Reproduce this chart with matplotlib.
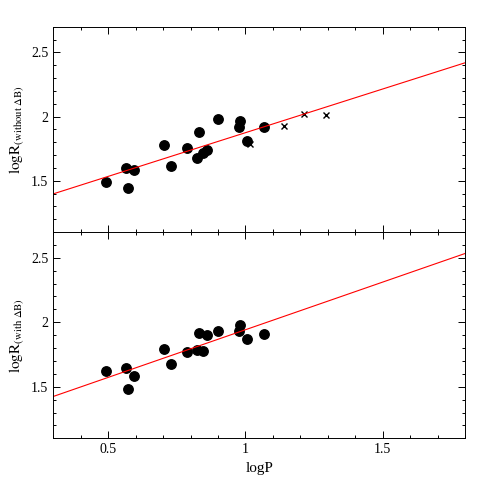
import matplotlib
matplotlib.use('Agg')
import matplotlib.pyplot as plt
import numpy as np
from matplotlib.ticker import MultipleLocator

plt.rcParams['font.family'] = ['Liberation Serif', 'DejaVu Serif']
plt.rcParams['mathtext.fontset'] = 'stix'

# data
logP = [0.491, 0.565, 0.573, 0.595, 0.704, 0.730, 0.787, 0.822, 0.830,
        0.847, 0.861, 0.899, 0.976, 0.980, 1.007, 1.066]
logR_without = [1.490, 1.598, 1.443, 1.583, 1.780, 1.611, 1.751, 1.676, 1.883,
                1.718, 1.741, 1.982, 1.920, 1.969, 1.808, 1.920]
logR_with = [1.624, 1.645, 1.484, 1.585, 1.795, 1.674, 1.772, 1.788, 1.917,
             1.777, 1.902, 1.935, 1.935, 1.982, 1.873, 1.907]
cross_logP = [1.015, 1.140, 1.214, 1.294]
cross_logR = [1.782, 1.925, 2.016, 2.010]

fit_without = (0.681, 1.193)   # slope, intercept
fit_with = (0.739, 1.203)

fig = plt.figure(figsize=(4.91, 4.91), dpi=100)
ax1 = fig.add_axes([0.1086, 0.5275, 0.8385, 0.4181])
ax2 = fig.add_axes([0.1086, 0.1073, 0.8385, 0.4202])

xx = np.array([0.3, 1.8])

ax1.plot(logP, logR_without, 'o', color='black', ms=6.8)
ax1.plot(cross_logP, cross_logR, 'x', color='black', ms=4, mew=1)
ax1.plot(xx, fit_without[0] * xx + fit_without[1], color='red', lw=0.8)

ax2.plot(logP, logR_with, 'o', color='black', ms=6.8)
ax2.plot(xx, fit_with[0] * xx + fit_with[1], color='red', lw=0.8)

for ax in (ax1, ax2):
    ax.set_xlim(0.3, 1.8)
    ax.set_ylim(1.1, 2.7)
    ax.xaxis.set_major_locator(MultipleLocator(0.5))
    ax.xaxis.set_minor_locator(MultipleLocator(0.1))
    ax.yaxis.set_major_locator(MultipleLocator(0.5))
    ax.yaxis.set_minor_locator(MultipleLocator(0.1))
    ax.tick_params(which='both', direction='in', top=True, right=True,
                   width=0.7, labelsize=10)
    ax.tick_params(which='major', length=5)
    ax.tick_params(which='minor', length=2.5)
    for s in ax.spines.values():
        s.set_linewidth(0.7)
    ax.yaxis.set_major_formatter(plt.FuncFormatter(lambda v, p: '%g' % v))
    ax.xaxis.set_major_formatter(plt.FuncFormatter(lambda v, p: '%g' % v))

ax1.tick_params(labelbottom=False)
ax1.set_ylabel(r'$\mathrm{logR}_{\mathrm{(without\ \Delta B)}}$', fontsize=11)
ax2.set_ylabel(r'$\mathrm{logR}_{\mathrm{(with\ \Delta B)}}$', fontsize=11)
ax2.set_xlabel('logP', fontsize=11)

fig.savefig('out.png', dpi=100)
